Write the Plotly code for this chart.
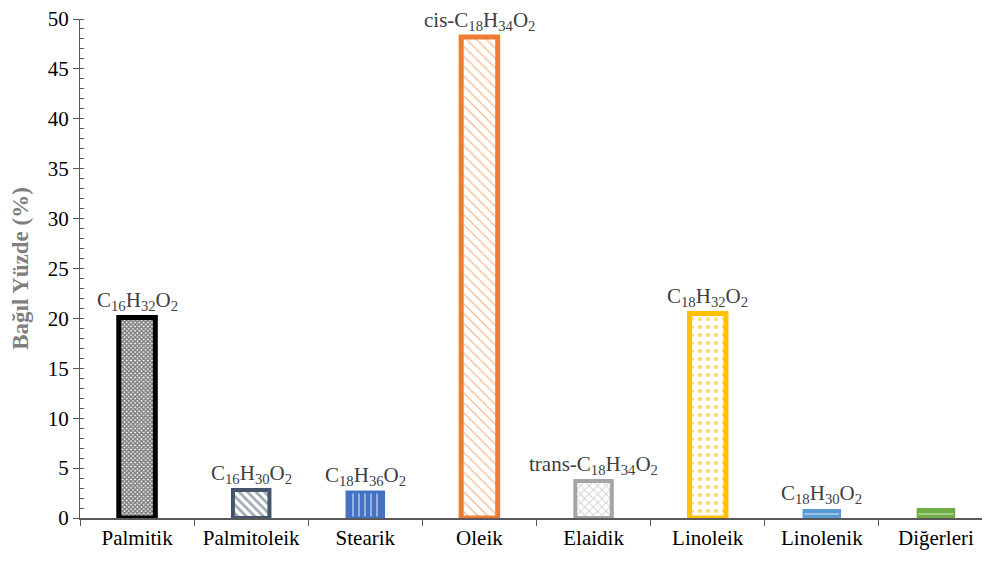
import plotly.graph_objects as go

categories = ["Palmitik", "Palmitoleik", "Stearik", "Oleik", "Elaidik", "Linoleik", "Linolenik", "Diğerleri"]
values = [20.1, 2.8, 2.6, 48.2, 3.7, 20.5, 0.8, 0.9]
formulas = ["C<sub>16</sub>H<sub>32</sub>O<sub>2</sub>",
            "C<sub>16</sub>H<sub>30</sub>O<sub>2</sub>",
            "C<sub>18</sub>H<sub>36</sub>O<sub>2</sub>",
            "cis-C<sub>18</sub>H<sub>34</sub>O<sub>2</sub>",
            "trans-C<sub>18</sub>H<sub>34</sub>O<sub>2</sub>",
            "C<sub>18</sub>H<sub>32</sub>O<sub>2</sub>",
            "C<sub>18</sub>H<sub>30</sub>O<sub>2</sub>",
            ""]

border_colors = ["#000000", "#44546A", "#4472C4", "#ED7D31", "#A5A5A5", "#FFC000", "#5B9BD5", "#70AD47"]
border_widths = [5, 4, 3, 5, 4, 5, 2, 2]
pat_shapes = ["x", "\\", "|", "\\", "x", ".", "-", "-"]
pat_fg = ["#000000", "#44546A", "#FFFFFF", "#ED7D31", "#A5A5A5", "#FFC000", "#FFFFFF", "#FFFFFF"]
pat_bg = ["#FFFFFF", "#FFFFFF", "#4472C4", "#FFFFFF", "#FFFFFF", "#FFFFFF", "#5B9BD5", "#70AD47"]
pat_size = [3, 6, 6, 7, 6, 8, 6, 6]
pat_solid = [0.75, 0.45, 0.3, 0.2, 0.3, 0.25, 0.25, 0.25]

FONT = "Liberation Serif, Times New Roman, serif"

fig = go.Figure()
for i, c in enumerate(categories):
    fig.add_trace(go.Bar(
        x=[c], y=[values[i]], width=0.32,
        marker=dict(
            color=pat_bg[i],
            line=dict(color=border_colors[i], width=border_widths[i]),
            pattern=dict(shape=pat_shapes[i], fgcolor=pat_fg[i],
                         size=pat_size[i], solidity=pat_solid[i], fillmode="overlay"),
        ),
        showlegend=False,
    ))

for c, v, f in zip(categories, values, formulas):
    if f:
        fig.add_annotation(x=c, y=v, text=f, showarrow=False, yanchor="bottom",
                           yshift=2, borderpad=0,
                           font=dict(family=FONT, size=21, color="#404040"))

fig.update_layout(
    width=990, height=563,
    margin=dict(l=72, r=5, t=11, b=53),
    plot_bgcolor="white", paper_bgcolor="white",
    font=dict(family=FONT, color="#000000"),
    barmode="overlay",
)
fig.update_xaxes(
    type="category", categoryorder="array", categoryarray=categories,
    showline=True, linecolor="#595959", linewidth=1.5, automargin=False,
    ticks="outside", tickson="boundaries", ticklen=6, tickcolor="#595959",
    tickfont=dict(family=FONT, size=21, color="#000000"), showgrid=False,
)
fig.update_yaxes(
    range=[0, 50], dtick=5, showline=True, linecolor="#595959", linewidth=1.2,
    automargin=False, ticklabeloverflow="allow",
    ticks="outside", ticklen=6, tickcolor="#595959", showgrid=False, zeroline=False,
    tickfont=dict(family=FONT, size=21, color="#000000"),
    minor=dict(dtick=1, ticks="inside", ticklen=4, tickcolor="#595959"),
    title=dict(text="<b>Bağıl Yüzde (%)</b>", font=dict(family=FONT, size=23, color="#7F7F7F"), standoff=13),
)

fig.write_html("out.html")
